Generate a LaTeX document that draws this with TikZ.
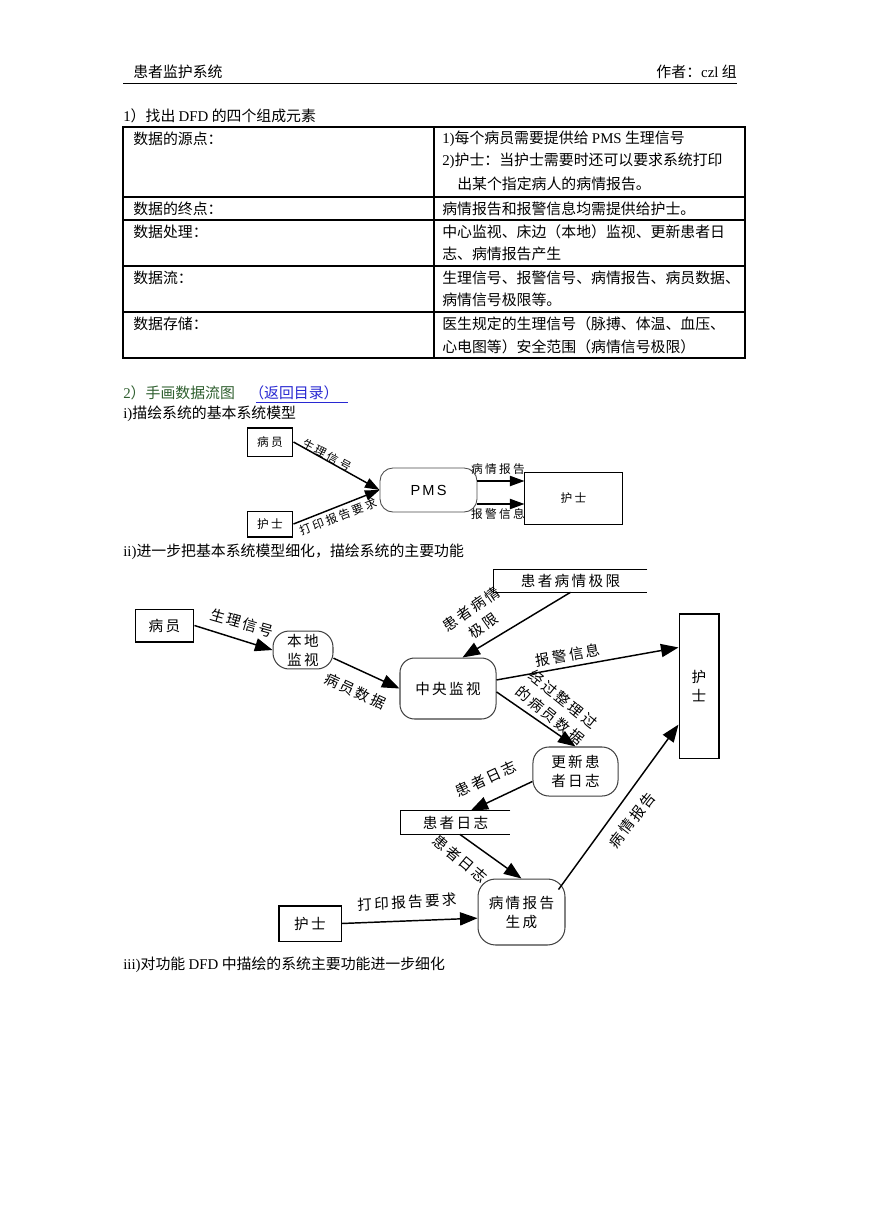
\documentclass[tikz,border=0pt]{standalone}
\usepackage{fontspec}
\setmainfont{Noto Sans CJK SC}
\newfontfamily\lat{Liberation Serif}
\newfontfamily\dfdfont[LetterSpace=16]{Noto Sans CJK SC}
\newfontfamily\ctxfont[LetterSpace=20]{Noto Sans CJK SC}
\newfontfamily\pmsfont[LetterSpace=15]{Liberation Sans}
\usetikzlibrary{arrows.meta,calc}
\definecolor{headgreen}{RGB}{47,95,47}
\definecolor{linkblue}{RGB}{40,40,210}

\tikzset{
  body/.style={anchor=west, inner sep=0pt, font=\fontsize{10.2}{13}\selectfont},
  ent/.style={draw, line width=0.7pt, inner sep=0pt, font=\dfdfont\fontsize{10}{13}\selectfont},
  proc/.style={draw=black!75, line width=0.7pt, inner sep=0pt, align=center, font=\dfdfont\fontsize{10}{13}\selectfont},
  store/.style={inner sep=0pt, font=\dfdfont\fontsize{10}{13}\selectfont},
  flow/.style={line width=1pt, -{Triangle[length=12pt,width=9pt]}},
  lab/.style={inner sep=0pt, align=center, font=\dfdfont\fontsize{10}{13}\selectfont},
  cbox/.style={draw, line width=0.7pt, inner sep=0pt, font=\ctxfont\fontsize{8}{10}\selectfont},
  clab/.style={inner sep=0pt, font=\ctxfont\fontsize{8}{10}\selectfont},
  cflow/.style={line width=1pt, -{Triangle[length=10pt,width=7pt]}}
}

\begin{document}
\begin{tikzpicture}[x=0.6853pt,y=-0.6853pt]
\useasboundingbox (0,0) rectangle (869,1228);
\fill[white] (0,0) rectangle (869,1228);

\node[body] (hd) at (133,72) {患者监护系统};
\node[body,anchor=east] (au) at (737,72) {作者：{\lat czl} 组};
\draw[line width=0.6pt] (123,83) -- (737,83);
\node[body] (s1) at (123,116) {{\lat 1}）找出 {\lat DFD} 的四个组成元素};

\draw[line width=0.7pt] (123,127) rectangle (745,358);
\draw[line width=0.7pt] (434,127) -- (434,358);
\foreach \y in {197,220,266,312}
  \draw[line width=0.7pt] (123,\y) -- (745,\y);

\node[body] (c11) at (133,139) {数据的源点：};
\node[body] (c12) at (442,139) {{\lat 1)}每个病员需要提供给 {\lat PMS} 生理信号};
\node[body] (c13) at (442,161) {{\lat 2)}护士：当护士需要时还可以要求系统打印};
\node[body] (c14) at (457,184) {出某个指定病人的病情报告。};
\node[body] (c21) at (133,209) {数据的终点：};
\node[body] (c22) at (442,209) {病情报告和报警信息均需提供给护士。};
\node[body] (c31) at (133,232) {数据处理：};
\node[body] (c32) at (442,232) {中心监视、床边（本地）监视、更新患者日};
\node[body] (c33) at (442,254) {志、病情报告产生};
\node[body] (c41) at (133,278) {数据流：};
\node[body] (c42) at (442,278) {生理信号、报警信号、病情报告、病员数据、};
\node[body] (c43) at (442,300) {病情信号极限等。};
\node[body] (c51) at (133,324) {数据存储：};
\node[body] (c52) at (442,324) {医生规定的生理信号（脉搏、体温、血压、};
\node[body] (c53) at (442,347) {心电图等）安全范围（病情信号极限）};

\node[body,text=headgreen] (s2) at (123,393) {{\lat 2}）手画数据流图};
\node[body,text=linkblue] (back) at (249,393) {（返回目录）};
\draw[linkblue,line width=0.6pt] (256,402) -- (348,402);
\node[body] (s3) at (123,414) {{\lat i)}描绘系统的基本系统模型};

\node[cbox,minimum width=31.5pt,minimum height=19.2pt] (pat1) at (270,442) {病员};
\node[cbox,minimum width=31.5pt,minimum height=17.8pt] (nurA) at (270,524) {护士};
\node[draw=black!70,line width=0.6pt,rounded corners=9pt,minimum width=66.5pt,minimum height=30.2pt,font=\pmsfont\fontsize{10}{12}\selectfont] (pms) at (428.5,490) {PMS};
\node[cbox,minimum width=66.5pt,minimum height=35pt] (nurB) at (573.5,498.5) {护士};
\draw[cflow] (pat1.east) -- (pms.west);
\draw[cflow] (nurA.east) -- (pms.west);
\draw[cflow] ($(pms.east)+(0,-9)$) -- ($(nurB.west)+(0,-17.5)$);
\draw[cflow] ($(pms.east)+(0,14)$) -- ($(nurB.west)+(0,5.5)$);
\node[clab,rotate=-28] (l1) at (327,455) {生理信号};
\node[clab,rotate=21] (l2) at (338,517) {打印报告要求};
\node[clab] (l3) at (498,469) {病情报告};
\node[clab] (l4) at (498,514) {报警信息};

\node[body] (s4) at (123,552) {{\lat ii)}进一步把基本系统模型细化，描绘系统的主要功能};

\node[ent,minimum width=40.4pt,minimum height=22.6pt] (pat2) at (164.5,625.5) {病员};
\node[proc,rounded corners=11pt,minimum width=41.1pt,minimum height=26pt] (local) at (303,650) {本地\\监视};
\node[proc,rounded corners=10pt,minimum width=65.8pt,minimum height=41.8pt] (central) at (448,688.5) {中央监视};
\node[store,minimum width=104.9pt,minimum height=15.1pt] (limit) at (570.5,581) {患者病情极限};
\draw[line width=0.7pt] (limit.north east) -- (limit.north west) -- (limit.south west) -- (limit.south east);
\node[ent,align=center,minimum width=27.4pt,minimum height=98.7pt] (nurC) at (699,686) {护\\士};
\node[proc,rounded corners=11pt,minimum width=58.3pt,minimum height=33.6pt] (update) at (575.5,771.5) {更新患\\者日志};
\node[store,minimum width=74.7pt,minimum height=15.8pt] (log) at (455.5,822.5) {患者日志};
\draw[line width=0.7pt] (log.north east) -- (log.north west) -- (log.south west) -- (log.south east);
\node[proc,rounded corners=12pt,minimum width=59.6pt,minimum height=45.2pt] (report) at (521.5,912) {病情报告\\生成};
\node[ent,minimum width=42.5pt,minimum height=24pt] (nurD) at (310,923.5) {护士};

\draw[flow] (pat2.east) -- (local.west);
\draw[flow] (local.-15) -- (central.west);
\draw[flow] (limit.south) -- (central.65);
\draw[flow] (central.10) -- (nurC.118);
\draw[flow] (central.-4) -- (update.north);
\draw[flow] (update.193) -- (log.38);
\draw[flow] (log.-70) -- (report.north);
\draw[flow] (nurD.east) -- (report.188);
\draw[flow] ($(report.north east)+(-7,11)$) -- (nurC.242);

\node[lab,rotate=-16] (m1) at (242,623) {生理信号};
\node[lab,rotate=-25] (m2) at (355,691) {病员数据};
\node[lab,rotate=35] (m3a) at (471,609) {患者病情};
\node[lab,rotate=35] (m3b) at (483,626) {极限};
\node[lab,rotate=10] (m4) at (568,655) {报警信息};
\node[lab,rotate=-39] (m5a) at (563,699) {经过整理过};
\node[lab,rotate=-39] (m5b) at (550,715) {的病员数据};
\node[lab,rotate=25] (m6) at (486,779) {患者日志};
\node[lab,rotate=-40] (m7) at (460,859) {患者日志};
\node[lab,rotate=52] (m8) at (632,820) {病情报告};
\node[lab,rotate=3] (m9) at (407,902) {打印报告要求};

\node[body] (s5) at (123,965) {{\lat iii)}对功能 {\lat DFD} 中描绘的系统主要功能进一步细化};
\end{tikzpicture}
\end{document}
